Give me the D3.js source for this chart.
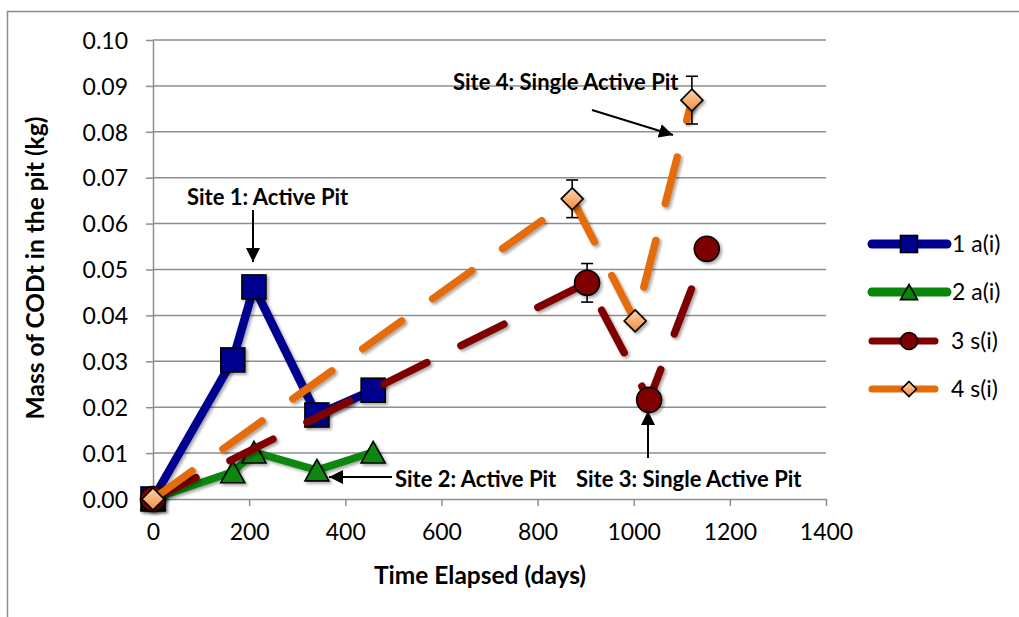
<!DOCTYPE html>
<html>
<head>
<meta charset="utf-8">
<script src="https://cdn.jsdelivr.net/npm/d3@7"></script>
<style>
  html, body { margin: 0; padding: 0; background: #fff; }
  svg { display: block; font-family: Lato, "Open Sans", sans-serif; }
</style>
</head>
<body>
<svg id="chart" width="1019" height="617"></svg>
<script>
// Time elapsed (days) and mass of CODt (kg) for each site
const seriesNames = ["1 a(i)", "2 a(i)", "3 s(i)", "4 s(i)"];
const days1 = [0, 166, 210, 341, 458];
const mass1 = [0, 0.0303, 0.0462, 0.0183, 0.0237];
const days2 = [0, 166, 210, 341, 458];
const mass2 = [0, 0.0059, 0.0102, 0.0063, 0.0102];
const days3 = [0, 903, 1032, 1152];
const mass3 = [0, 0.0471, 0.0216, 0.0545];
const err3  = [0, 0.0042, 0, 0];
const days4 = [0, 872, 1003, 1121];
const mass4 = [0, 0.0654, 0.0388, 0.0869];
const err4  = [0, 0.0041, 0, 0.0052];

const xTicks = [0, 200, 400, 600, 800, 1000, 1200, 1400];
const yTicks = [0, 0.01, 0.02, 0.03, 0.04, 0.05, 0.06, 0.07, 0.08, 0.09, 0.10];

const annotations = [
  { text: "Site 1: Active Pit", tx: 187, ty: 205, ax1: [253, 210], ax2: [253, 262] },
  { text: "Site 4: Single Active Pit", tx: 453, ty: 90, ax1: [592, 110], ax2: [673, 135] },
  { text: "Site 2: Active Pit", tx: 395, ty: 487, ax1: [392, 477], ax2: [329, 477] },
  { text: "Site 3: Single Active Pit", tx: 576, ty: 487, ax1: [648, 458], ax2: [648, 411] }
];

const svg = d3.select("#chart");
const x = d3.scaleLinear().domain([0, 1400]).range([153, 826]);
const y = d3.scaleLinear().domain([0, 0.10]).range([499, 40]);

const defs = svg.append("defs");
const shadow = defs.append("filter").attr("id", "shadow")
  .attr("x", "-50%").attr("y", "-50%").attr("width", "200%").attr("height", "200%");
shadow.append("feDropShadow").attr("dx", 2).attr("dy", 2).attr("stdDeviation", 1.8)
  .attr("flood-color", "#000").attr("flood-opacity", 0.35);
const grad = defs.append("linearGradient").attr("id", "diamondFill")
  .attr("x1", 0).attr("y1", 0).attr("x2", 0).attr("y2", 1);
grad.append("stop").attr("offset", "0%").attr("stop-color", "#fcd5b0");
grad.append("stop").attr("offset", "100%").attr("stop-color", "#f38b3c");
defs.append("marker").attr("id", "arrow")
  .attr("viewBox", "0 0 10 10").attr("refX", 10).attr("refY", 5)
  .attr("markerWidth", 14).attr("markerHeight", 14).attr("markerUnits", "userSpaceOnUse")
  .attr("orient", "auto")
  .append("path").attr("d", "M0,0 L10,5 L0,10 Z").attr("fill", "#000");

// chart frame
svg.append("path").attr("d", "M7.5,617 V11.5 H1019")
  .attr("fill", "none").attr("stroke", "#8c8c8c").attr("stroke-width", 1.5);

// horizontal gridlines
svg.append("g").selectAll("line").data(yTicks.slice(1)).join("line")
  .attr("x1", x(0)).attr("x2", x(1400))
  .attr("y1", d => y(d)).attr("y2", d => y(d))
  .attr("stroke", "#8e8e8e").attr("stroke-width", 1.5);

// axes
const gx = svg.append("g").attr("transform", `translate(0,${y(0)})`)
  .call(d3.axisBottom(x).tickValues(xTicks).tickFormat(d3.format("d")).tickSizeInner(7).tickSizeOuter(0).tickPadding(18));
const gy = svg.append("g").attr("transform", `translate(${x(0)},0)`)
  .call(d3.axisLeft(y).tickValues(yTicks).tickFormat(d3.format(".2f")).tickSizeInner(7).tickSizeOuter(0).tickPadding(18));
[gx, gy].forEach(g => {
  g.select(".domain").attr("stroke", "#8e8e8e").attr("stroke-width", 1.5);
  g.selectAll(".tick line").attr("stroke", "#8e8e8e").attr("stroke-width", 1.5);
  g.selectAll(".tick text").attr("fill", "#000").attr("font-size", 23)
    .attr("font-family", "Lato, 'Open Sans', sans-serif");
});
gy.selectAll(".tick text").attr("dy", "0.36em");

// axis titles
svg.append("text").attr("x", 480).attr("y", 584).attr("text-anchor", "middle")
  .attr("font-weight", "bold").attr("font-size", 24.5).text("Time Elapsed (days)");
svg.append("text").attr("transform", "translate(44,268) rotate(-90)").attr("text-anchor", "middle")
  .attr("font-weight", "bold").attr("font-size", 24.5).text("Mass of CODt in the pit (kg)");

const series = [
  { name: seriesNames[0], days: days1, mass: mass1, err: null, color: "#00008e", width: 8.5, dash: null, shape: "square" },
  { name: seriesNames[1], days: days2, mass: mass2, err: null, color: "#0a870a", width: 7.5, dash: null, shape: "triangle" },
  { name: seriesNames[2], days: days3, mass: mass3, err: err3, color: "#7f0000", width: 7.5, dash: "48 38", shape: "circle" },
  { name: seriesNames[3], days: days4, mass: mass4, err: err4, color: "#e46c0a", width: 7.5, dash: "48 38", shape: "diamond" }
];

function drawMarker(g, shape, cx, cy, s) {
  let el;
  if (shape === "square") {
    el = g.append("rect").attr("x", cx - s / 2).attr("y", cy - s / 2).attr("width", s).attr("height", s)
      .attr("fill", "#00008e");
  } else if (shape === "triangle") {
    const h = s * 0.9;
    el = g.append("path").attr("d", `M${cx},${cy - h / 2} L${cx + s / 2},${cy + h / 2} L${cx - s / 2},${cy + h / 2} Z`)
      .attr("fill", "#0a870a");
  } else if (shape === "circle") {
    el = g.append("circle").attr("cx", cx).attr("cy", cy).attr("r", s / 2).attr("fill", "#7f0000");
  } else {
    const r = s / 2;
    el = g.append("path").attr("d", `M${cx},${cy - r} L${cx + r},${cy} L${cx},${cy + r} L${cx - r},${cy} Z`)
      .attr("fill", "url(#diamondFill)");
  }
  el.attr("stroke", "#000").attr("stroke-width", 1.6).attr("stroke-linejoin", "miter");
  return el;
}

const markerSize = { square: 24, triangle: 24, circle: 25, diamond: 22 };
const line = d3.line().x(d => x(d[0])).y(d => y(d[1]));

series.forEach(s => {
  const g = svg.append("g");
  const pts = s.days.map((d, i) => [d, s.mass[i]]);
  g.append("path").attr("d", line(pts)).attr("fill", "none")
    .attr("stroke", s.color).attr("stroke-width", s.width)
    .attr("stroke-linecap", "round").attr("stroke-linejoin", "round")
    .attr("stroke-dasharray", s.dash).attr("filter", "url(#shadow)");
  if (s.err) {
    pts.forEach((p, i) => {
      const e = s.err[i];
      if (!e) return;
      const cx = x(p[0]);
      const eg = g.append("g").attr("stroke", "#000").attr("stroke-width", 1.6);
      eg.append("line").attr("x1", cx).attr("x2", cx).attr("y1", y(p[1] + e)).attr("y2", y(p[1] - e));
      eg.append("line").attr("x1", cx - 6).attr("x2", cx + 6).attr("y1", y(p[1] + e)).attr("y2", y(p[1] + e));
      eg.append("line").attr("x1", cx - 6).attr("x2", cx + 6).attr("y1", y(p[1] - e)).attr("y2", y(p[1] - e));
    });
  }
  pts.forEach(p => {
    drawMarker(g, s.shape, x(p[0]), y(p[1]), markerSize[s.shape]).attr("filter", "url(#shadow)");
  });
});

// annotations
annotations.forEach(a => {
  svg.append("text").attr("x", a.tx).attr("y", a.ty).attr("font-weight", "bold")
    .attr("font-size", 22).text(a.text);
  svg.append("line").attr("x1", a.ax1[0]).attr("y1", a.ax1[1]).attr("x2", a.ax2[0]).attr("y2", a.ax2[1])
    .attr("stroke", "#000").attr("stroke-width", 2).attr("marker-end", "url(#arrow)");
});

// legend
const legendY = [244, 292, 341, 389];
const legendLineEnd = [947, 947, 935, 935];
const legendSize = { square: 17, triangle: 17, circle: 17, diamond: 15 };
series.forEach((s, i) => {
  const g = svg.append("g");
  g.append("line").attr("x1", 872).attr("x2", legendLineEnd[i]).attr("y1", legendY[i]).attr("y2", legendY[i])
    .attr("stroke", s.color).attr("stroke-width", i < 2 ? 9 : 7).attr("stroke-linecap", "round");
  drawMarker(g, s.shape, 909, legendY[i], legendSize[s.shape]);
  g.append("text").attr("x", i < 2 ? 952 : 951).attr("y", legendY[i]).attr("dy", "0.35em")
    .attr("font-size", 23).text(s.name);
});
</script>
</body>
</html>
